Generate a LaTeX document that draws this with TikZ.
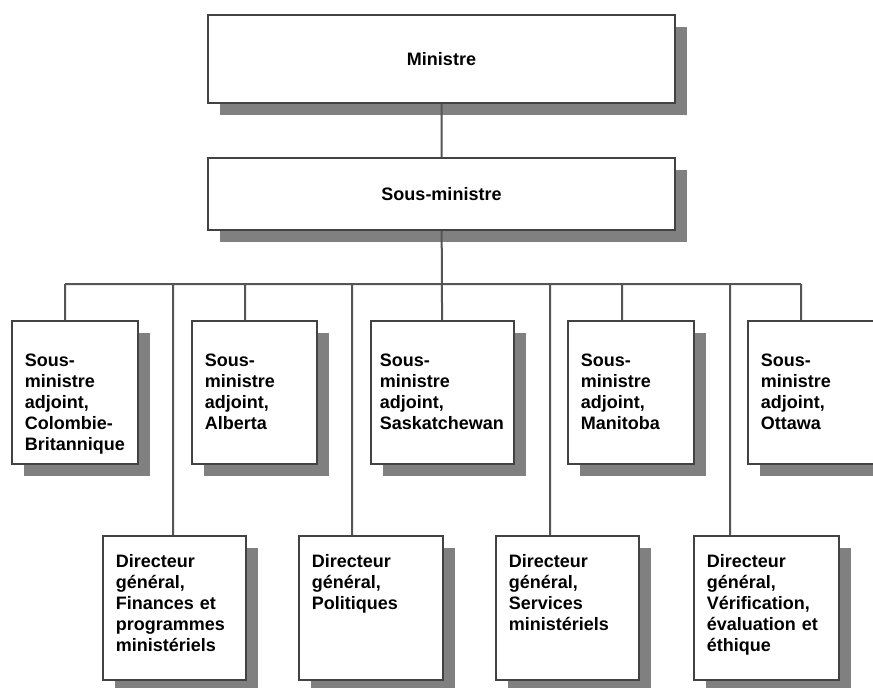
\documentclass[tikz,border=0pt]{standalone}
\usepackage{fontspec}
\setmainfont{Liberation Sans}
\usetikzlibrary{shadows}
\definecolor{edgegray}{HTML}{424242}
\definecolor{shadegray}{HTML}{808080}
\hyphenpenalty=10000
\tikzset{every node/.append style={font=\bfseries\fontsize{18}{21}\selectfont}}
\tikzset{
  unit/.style={draw=edgegray, line width=1.8pt, fill=white, inner sep=0pt,
    drop shadow={shadow xshift=12pt, shadow yshift=-12pt, fill=shadegray, opacity=1}},
  head/.style={unit, minimum width=467pt, minimum height=#1},
  adj/.style={unit, anchor=north west, align=left, inner xsep=13pt,
    text width=#1, text height=46pt, text depth=97pt},
  dir/.style={unit, anchor=north west, align=left, inner xsep=13pt,
    text width=#1, text height=32pt, text depth=112pt},
  link/.style={draw=edgegray!90, line width=2pt}
}

\begin{document}
\begin{tikzpicture}[x=1pt, y=-1pt]
    \useasboundingbox (0,0) rectangle (873,688);

    \node[head=88pt] (min) at (441.5,59) {Ministre};
    \node[head=72pt] (sm) at (441.5,194) {Sous-ministre};

    \node[adj=100pt] (cb) at (11,320) {Sous-\\ministre\\adjoint,\\Colombie-\\Britannique};
    \node[adj=99pt] (ab) at (191,320) {Sous-\\ministre\\adjoint,\\Alberta};
    \node[adj=125pt, inner xsep=9pt] (sk) at (370,320) {Sous-\\ministre\\adjoint,\\Saskatchewan};
    \node[adj=100pt] (mb) at (567,320) {Sous-\\ministre\\adjoint,\\Manitoba};
    \node[adj=100pt] (ot) at (747,320) {Sous-\\ministre\\adjoint,\\Ottawa};

    \node[dir=117pt] (dfin) at (102,535) {Directeur\\général,\\Finances et\\programmes\\ministériels};
    \node[dir=118pt] (dpol) at (298,535) {Directeur\\général,\\Politiques};
    \node[dir=117pt] (dsm) at (495,535) {Directeur\\général,\\Services\\ministériels};
    \node[dir=119pt] (dver) at (693,535) {Directeur\\général,\\Vérification,\\évaluation et\\éthique};

    \coordinate (jl) at (65,284);
    \coordinate (ja) at (245,284);
    \coordinate (jm) at (622,284);
    \coordinate (jr) at (801,284);
    \coordinate (kf) at (173,284);
    \coordinate (kp) at (352,284);
    \coordinate (ks) at (550,284);
    \coordinate (kv) at (730,284);

    \draw[link]
      (min) -- (sm)
      (sm) -- (sk)
      (jl) -- (jr)
      (jl) -- (jl |- cb.north)
      (ja) -- (ja |- ab.north)
      (jm) -- (jm |- mb.north)
      (jr) -- (jr |- ot.north)
      (kf) -- (kf |- dfin.north)
      (kp) -- (kp |- dpol.north)
      (ks) -- (ks |- dsm.north)
      (kv) -- (kv |- dver.north);

  \end{tikzpicture}
\end{document}
